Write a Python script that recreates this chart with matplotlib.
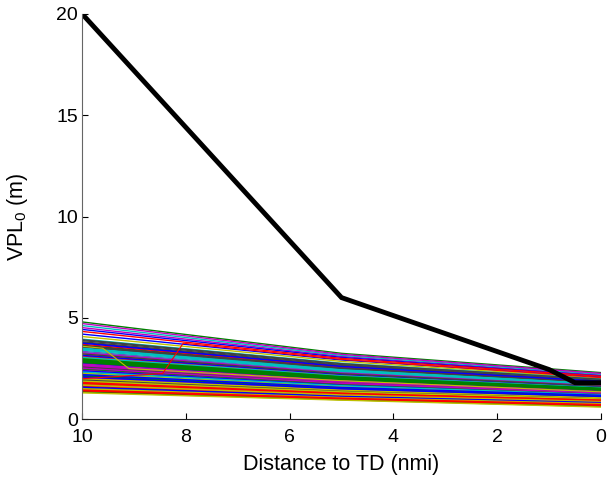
import matplotlib
matplotlib.use("Agg")
import matplotlib.pyplot as plt

plt.rcParams['font.family'] = ['Liberation Sans', 'DejaVu Sans']
plt.rcParams['mathtext.fontset'] = 'custom'
plt.rcParams['mathtext.rm'] = 'Liberation Sans'
plt.rcParams['mathtext.it'] = 'Liberation Sans:italic'

# distance to touchdown (nmi) where each run is sampled
dist = [10, 5, 0]

# VPL_0 (m) of each run at 10, 5 and 0 nmi
vpl_10 = [2.41, 1.52, 3.12, 1.95, 2.78, 1.33, 3.55, 2.10, 4.80, 2.62,
          1.70, 3.35, 2.25, 1.42, 3.78, 2.93, 1.85, 2.50, 4.52, 3.02,
          1.60, 2.35, 3.65, 2.02, 2.70, 1.38, 3.25, 2.18, 4.20, 2.85,
          1.78, 3.45, 2.55, 1.47, 3.88, 2.30, 1.90, 3.08, 4.62, 2.66,
          1.56, 3.58, 2.14, 2.88, 1.66, 3.30, 2.44, 4.08, 1.98, 2.75,
          1.36, 3.70, 2.22, 3.18, 1.74, 2.58, 4.43, 2.96, 1.82, 3.40,
          2.06, 1.50, 3.82, 2.38, 2.82, 1.63, 3.50, 4.72, 2.28, 1.93,
          3.15, 2.48, 1.44, 3.95, 2.72, 2.00, 3.62, 1.58, 2.90, 4.33,
          2.33, 3.28, 1.68, 2.60, 3.75, 2.12, 1.40, 3.05, 2.52, 1.88,
          3.92, 2.20, 2.98, 1.76, 3.48, 2.64, 1.30, 3.22, 2.08, 2.80]
vpl_5 = [1.68, 1.10, 2.20, 1.40, 1.95, 0.96, 2.45, 1.52, 3.25, 1.82,
         1.22, 2.32, 1.60, 1.02, 2.62, 2.05, 1.33, 1.75, 3.10, 2.12,
         1.15, 1.66, 2.55, 1.45, 1.90, 0.99, 2.26, 1.56, 2.92, 2.00,
         1.28, 2.40, 1.78, 1.06, 2.70, 1.64, 1.37, 2.16, 3.15, 1.86,
         1.12, 2.50, 1.54, 2.02, 1.19, 2.30, 1.72, 2.85, 1.42, 1.93,
         0.97, 2.58, 1.58, 2.22, 1.25, 1.80, 3.05, 2.08, 1.30, 2.36,
         1.48, 1.08, 2.66, 1.68, 1.98, 1.17, 2.44, 3.20, 1.62, 1.39,
         2.21, 1.74, 1.04, 2.76, 1.91, 1.44, 2.52, 1.14, 2.04, 3.00,
         1.65, 2.28, 1.20, 1.81, 2.60, 1.53, 1.00, 2.14, 1.77, 1.35,
         2.74, 1.57, 2.10, 1.27, 2.42, 1.84, 0.94, 2.24, 1.50, 1.96]
vpl_0 = [1.22, 0.78, 1.60, 1.05, 1.42, 0.62, 1.75, 1.15, 2.30, 1.30,
         0.90, 1.68, 1.18, 0.70, 1.88, 1.50, 0.98, 1.28, 2.18, 1.55,
         0.85, 1.20, 1.82, 1.08, 1.38, 0.66, 1.64, 1.16, 2.08, 1.46,
         0.95, 1.72, 1.30, 0.74, 1.95, 1.22, 1.02, 1.58, 2.22, 1.36,
         0.82, 1.80, 1.14, 1.48, 0.88, 1.66, 1.25, 2.02, 1.06, 1.40,
         0.64, 1.85, 1.17, 1.62, 0.92, 1.32, 2.14, 1.52, 0.96, 1.70,
         1.10, 0.76, 1.92, 1.24, 1.44, 0.86, 1.76, 2.26, 1.19, 1.04,
         1.61, 1.27, 0.72, 1.98, 1.39, 1.07, 1.81, 0.84, 1.49, 2.12,
         1.21, 1.65, 0.89, 1.33, 1.87, 1.13, 0.68, 1.56, 1.29, 1.00,
         1.97, 1.18, 1.53, 0.94, 1.74, 1.35, 0.60, 1.63, 1.12, 1.43]

# two runs with a jump near 9 nmi
kink_dist = [[10, 9.6, 9.1, 5, 0], [10, 8.45, 8.05, 5, 0]]
kink_vpl = [[3.6, 3.5, 2.5, 1.9, 1.35], [2.0, 2.25, 3.75, 2.95, 2.05]]

# threshold curve
thr_dist = [10, 5, 1.0, 0.5, 0]
thr_vpl = [20, 6, 2.45, 1.8, 1.8]

matlab_colors = [(0, 0, 1), (0, 0.5, 0), (1, 0, 0), (0, 0.75, 0.75),
                 (0.75, 0, 0.75), (0.75, 0.75, 0), (0.25, 0.25, 0.25)]

fig = plt.figure(figsize=(6.08, 4.78), dpi=100)
ax = fig.add_axes([0.135, 0.123, 0.8535, 0.848])

for i in range(len(vpl_10)):
    ax.plot(dist, [vpl_10[i], vpl_5[i], vpl_0[i]],
            color=matlab_colors[i % 7], lw=1.0)
for i in range(len(kink_dist)):
    ax.plot(kink_dist[i], kink_vpl[i], color=matlab_colors[(i * 4 + 5) % 7], lw=0.8)

ax.plot(thr_dist, thr_vpl, color='k', lw=3.5, solid_joinstyle='miter')

ax.set_xlim(10, 0)
ax.set_ylim(0, 20)
ax.set_xticks([10, 8, 6, 4, 2, 0])
ax.set_yticks([0, 5, 10, 15, 20])
ax.spines['top'].set_visible(False)
ax.spines['right'].set_visible(False)
ax.spines['left'].set_color('#666666')
ax.spines['bottom'].set_color('#222222')
ax.tick_params(direction='in', length=4, labelsize=14)
ax.tick_params(axis='x', pad=7)
ax.tick_params(axis='y', pad=3)
ax.set_xlabel('Distance to TD (nmi)', fontsize=15.5)
ax.set_ylabel('VPL$_0$ (m)', fontsize=15.5)
ax.xaxis.set_label_coords(0.5, -0.085)
ax.yaxis.set_label_coords(-0.10, 0.5)

fig.savefig('out.png', dpi=100)
